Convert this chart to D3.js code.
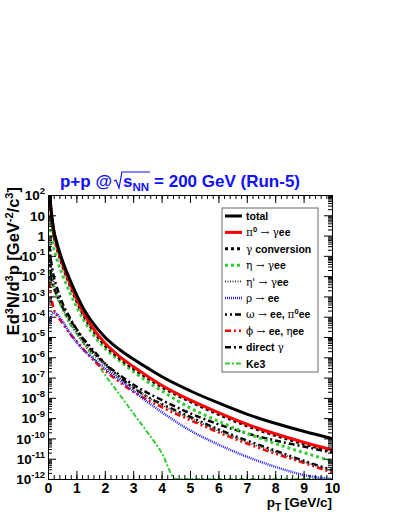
<!DOCTYPE html>
<html>
<head>
<meta charset="utf-8">
<script src="https://cdn.jsdelivr.net/npm/d3@7"></script>
<style>
body { margin:0; background:#fff; }
svg { display:block; font-family:"Liberation Sans", Arial, Helvetica, sans-serif; font-weight:bold; }
</style>
</head>
<body>
<script>
// ---- values ----
var pt    = [0.05,0.1,0.15,0.2,0.3,0.5,0.75,1,1.25,1.5,2,2.5,3,3.5,4,5,6,7,8,9,10];
var ke3Pt = [0.05,0.1,0.15,0.2,0.3,0.5,0.75,1,1.25,1.5,2,2.5,3,3.5,4,4.5,5,6,7,8,9,10];

var totalY   = [2.5e2,2.5e1,6.3,2.0,5.0e-1,6.3e-2,7.9e-3,1.26e-3,2.5e-4,7.1e-5,1.0e-5,2.5e-6,8.3e-7,3.0e-7,1.12e-7,2.24e-8,5.6e-9,1.58e-9,5.6e-10,2.24e-10,1.0e-10];
var pi0Y     = [2.24e2,2.1e1,5.1,1.58,3.8e-1,4.6e-2,5.4e-3,7.9e-4,1.51e-4,4.0e-5,5.0e-6,1.15e-6,3.5e-7,1.17e-7,4.2e-8,7.9e-9,1.86e-9,5.0e-10,1.7e-10,6.5e-11,2.75e-11];
var convY    = [1.78e2,1.66e1,4.1,1.26,3.0e-1,3.6e-2,4.3e-3,6.3e-4,1.2e-4,3.2e-5,4.0e-6,9.3e-7,2.8e-7,9.5e-8,3.5e-8,6.6e-9,1.55e-9,4.2e-10,1.41e-10,5.4e-11,2.3e-11];
var etaY     = [7.9,1.58,5.6e-1,2.5e-1,7.9e-2,1.26e-2,1.78e-3,3.2e-4,7.1e-5,2.0e-5,2.8e-6,7.1e-7,2.0e-7,6.3e-8,2.24e-8,3.2e-9,7.1e-10,1.78e-10,5.6e-11,2.0e-11,7.6e-12];
var etapY    = [1.26e-1,3.2e-2,1.26e-2,5.0e-3,1.58e-3,3.2e-4,6.3e-5,1.58e-5,5.0e-6,2.0e-6,4.0e-7,1.0e-7,3.2e-8,1.12e-8,4.5e-9,1.0e-9,2.4e-10,6.8e-11,2.14e-11,7.1e-12,2.5e-12];
var rhoY     = [5.0e-5,1.0e-4,1.41e-4,1.58e-4,1.41e-4,6.3e-5,1.78e-5,5.6e-6,2.24e-6,1.12e-6,2.8e-7,7.9e-8,2.24e-8,6.3e-9,2.0e-9,2.5e-10,5.0e-11,1.26e-11,4.0e-12,1.58e-12,6.3e-13];
var omegaY   = [6.3e-2,1.58e-2,6.3e-3,3.2e-3,1.26e-3,3.2e-4,7.9e-5,2.5e-5,7.9e-6,3.2e-6,5.0e-7,1.12e-7,3.2e-8,1.12e-8,5.0e-9,1.17e-9,2.8e-10,7.9e-11,2.5e-11,7.9e-12,2.8e-12];
var phiY     = [5.0e-3,1.26e-3,5.0e-4,2.5e-4,1.26e-4,5.0e-5,1.58e-5,6.3e-6,2.5e-6,1.0e-6,2.24e-7,6.3e-8,2.0e-8,7.9e-9,3.5e-9,8.1e-10,2.0e-10,5.6e-11,1.78e-11,6.3e-12,2.1e-12];
var dirGamY  = [3.2e-1,6.3e-2,2.5e-2,1.0e-2,3.2e-3,5.0e-4,1.0e-4,2.5e-5,7.1e-6,2.5e-6,5.0e-7,1.41e-7,4.5e-8,1.78e-8,7.9e-9,1.74e-9,5.0e-10,1.78e-10,7.9e-11,4.0e-11,2.0e-11];
var ke3Y     = [1.58e-2,7.9e-3,4.5e-3,2.5e-3,1.0e-3,2.5e-4,5.0e-5,1.58e-5,5.0e-6,1.58e-6,1.41e-7,1.58e-8,1.78e-9,2.0e-10,2.0e-11,1.0e-12,1.0e-12,1.0e-12,1.0e-12,1.0e-12,1.0e-12,1.0e-12];

// legend labels: g = greek/symbol (normal weight), s = superscript
var legendLabels = [
  [{t:"total"}],
  [{t:"π",g:1},{t:"0",s:1},{t:" → γ",g:1},{t:"ee"}],
  [{t:"γ",g:1},{t:" conversion"}],
  [{t:"η → γ",g:1},{t:"ee"}],
  [{t:"η' → γ",g:1},{t:"ee"}],
  [{t:"ρ → ",g:1},{t:"ee"}],
  [{t:"ω → ",g:1},{t:"ee, "},{t:"π",g:1},{t:"0",s:1},{t:"ee"}],
  [{t:"ϕ → ",g:1},{t:"ee, "},{t:"η",g:1},{t:"ee"}],
  [{t:"direct "},{t:"γ",g:1}],
  [{t:"Ke3"}]
];

var xTicks = [0,1,2,3,4,5,6,7,8,9,10];
var yPowers = [2,1,0,-1,-2,-3,-4,-5,-6,-7,-8,-9,-10,-11,-12];

// ---- styles ----
var series = [
  {x:pt,    y:totalY,  color:"#000000", w:3,   dash:null},
  {x:pt,    y:pi0Y,    color:"#ff0000", w:3,   dash:null},
  {x:pt,    y:convY,   color:"#000000", w:3,   dash:"3,3"},
  {x:pt,    y:etaY,    color:"#33cc33", w:3,   dash:"3,3"},
  {x:pt,    y:etapY,   color:"#444444", w:2,   dash:"1,1.5"},
  {x:pt,    y:rhoY,    color:"#2222ff", w:2.5, dash:"1,1"},
  {x:pt,    y:omegaY,  color:"#000000", w:2.5, dash:"2,3,2,3,6,3"},
  {x:pt,    y:phiY,    color:"#ff0000", w:2.5, dash:"6,3,2,3,2,3"},
  {x:pt,    y:dirGamY, color:"#000000", w:2.5, dash:"6,3,2,3"},
  {x:ke3Pt, y:ke3Y,    color:"#33cc33", w:2,   dash:"5,2,2,2"}
];

var W = 399, H = 516;
var L = 48, R = 332, T = 195, B = 479;

var svg = d3.select("body").append("svg").attr("width", W).attr("height", H);

var x = d3.scaleLinear().domain([0, 10]).range([L, R]);
var y = d3.scaleLog().domain([1e-12, 1e2]).range([B, T]);

svg.append("clipPath").attr("id", "plotclip")
  .append("rect").attr("x", L).attr("y", T).attr("width", R - L).attr("height", B - T + 4);

var line = d3.line()
  .x(function(d){ return x(d[0]); })
  .y(function(d){ return y(Math.max(d[1], 1e-12)); })
  .curve(d3.curveMonotoneX);

var plot = svg.append("g").attr("clip-path", "url(#plotclip)");
series.slice().reverse().forEach(function(s){
  plot.append("path")
    .attr("d", line(d3.zip(s.x, s.y)))
    .attr("fill", "none")
    .attr("stroke", s.color)
    .attr("stroke-width", s.w)
    .attr("stroke-dasharray", s.dash);
});

// ---- axes ----
var xMinor = d3.range(0, 10.001, 0.2);
var yMinor = [];
yPowers.forEach(function(p){ if (p < 2) for (var k = 2; k <= 9; k++) yMinor.push(k * Math.pow(10, p)); });
var yMajor = yPowers.map(function(p){ return Math.pow(10, p); });

function drawAxis(g) {
  g.select(".domain").attr("stroke", "#000");
  g.selectAll(".tick line").attr("stroke", "#000");
}

svg.append("g").attr("transform", "translate(0," + B + ")")
  .call(d3.axisBottom(x).tickValues(xMinor).tickSize(-4).tickFormat("").tickSizeOuter(0)).call(drawAxis);
svg.append("g").attr("transform", "translate(0," + B + ")")
  .call(d3.axisBottom(x).tickValues(xTicks).tickSize(-8).tickPadding(4).tickFormat(d3.format("d")).tickSizeOuter(0))
  .call(drawAxis)
  .selectAll("text").attr("fill", "#000").style("font-size", "14px").style("font-weight", "bold");

svg.append("g").attr("transform", "translate(0," + T + ")")
  .call(d3.axisTop(x).tickValues(xMinor).tickSize(-4).tickFormat("").tickSizeOuter(0)).call(drawAxis);
svg.append("g").attr("transform", "translate(0," + T + ")")
  .call(d3.axisTop(x).tickValues(xTicks).tickSize(-8).tickFormat("").tickSizeOuter(0)).call(drawAxis);

svg.append("g").attr("transform", "translate(" + L + ",0)")
  .call(d3.axisLeft(y).tickValues(yMinor).tickSize(-4).tickFormat("").tickSizeOuter(0)).call(drawAxis);
var yl = svg.append("g").attr("transform", "translate(" + L + ",0)")
  .call(d3.axisLeft(y).tickValues(yMajor).tickSize(-8).tickPadding(3).tickFormat("").tickSizeOuter(0)).call(drawAxis);

svg.append("g").attr("transform", "translate(" + R + ",0)")
  .call(d3.axisRight(y).tickValues(yMinor).tickSize(-4).tickFormat("").tickSizeOuter(0)).call(drawAxis);
svg.append("g").attr("transform", "translate(" + R + ",0)")
  .call(d3.axisRight(y).tickValues(yMajor).tickSize(-8).tickFormat("").tickSizeOuter(0)).call(drawAxis);

// y tick labels with superscripts
yl.selectAll(".tick text").each(function(d){
  var p = Math.round(Math.log10(d));
  var t = d3.select(this).attr("fill", "#000").style("font-size", "13.5px").attr("dy", "0.35em");
  if (p === 0) { t.text("1"); return; }
  t.append("tspan").text("10");
  if (p !== 1) t.append("tspan").attr("dy", "-6").style("font-size", "9.5px").text(p);
});

// ---- axis titles ----
var xt = svg.append("text").attr("x", R).attr("y", 507).attr("text-anchor", "end").style("font-size", "13.5px");
xt.append("tspan").text("p");
xt.append("tspan").attr("dy", 4).style("font-size", "10px").text("T");
xt.append("tspan").attr("dy", -4).text(" [GeV/c]");

var yt = svg.append("text").attr("transform", "translate(19,187) rotate(-90)")
  .attr("text-anchor", "end").style("font-size", "16.5px");
yt.append("tspan").text("Ed");
yt.append("tspan").attr("dy", -6).style("font-size", "11px").text("3");
yt.append("tspan").attr("dy", 6).text("N/d");
yt.append("tspan").attr("dy", -6).style("font-size", "11px").text("3");
yt.append("tspan").attr("dy", 6).text("p [GeV");
yt.append("tspan").attr("dy", -6).style("font-size", "11px").text("-2");
yt.append("tspan").attr("dy", 6).text("/c");
yt.append("tspan").attr("dy", -6).style("font-size", "11px").text("3");
yt.append("tspan").attr("dy", 6).text("]");

// ---- title with square root ----
var blue = "#1010ff", tY = 187;
var tg = svg.append("g").attr("fill", blue).style("font-size", "17px");
var t1 = tg.append("text").attr("y", tY).text("p+p @");
var t2 = tg.append("text").attr("y", tY);
t2.append("tspan").text("s");
t2.append("tspan").attr("dy", 4).style("font-size", "11.5px").text("NN");
var t3 = tg.append("text").attr("y", tY).text("= 200 GeV (Run-5)");
var w1 = t1.node().getComputedTextLength(),
    w2 = t2.node().getComputedTextLength(),
    w3 = t3.node().getComputedTextLength();
var rootW = 9, gap = 2, sp = 5;
var x0 = 180 - (w1 + gap + rootW + w2 + sp + w3) / 2;
t1.attr("x", x0);
var rx = x0 + w1 + gap;
t2.attr("x", rx + rootW);
t3.attr("x", rx + rootW + w2 + sp);
tg.append("path")
  .attr("d", "M" + rx + "," + (tY - 6) + "L" + (rx + 2) + "," + (tY - 7) + "L" + (rx + 5) + "," + (tY + 1) +
             "L" + (rx + rootW - 1) + "," + (tY - 15) + "L" + (rx + rootW + w2 + 1) + "," + (tY - 15))
  .attr("fill", "none").attr("stroke", blue).attr("stroke-width", 1.2);

// ---- legend ----
var lg = svg.append("g");
lg.append("rect").attr("x", 222).attr("y", 208).attr("width", 96).attr("height", 164)
  .attr("fill", "#fff").attr("stroke", "#666").attr("stroke-width", 1);
legendLabels.forEach(function(lab, i){
  var s = series[i], yy = 216 + i * 16.4;
  lg.append("line").attr("x1", 225).attr("x2", 242).attr("y1", yy).attr("y2", yy)
    .attr("stroke", s.color).attr("stroke-width", s.w).attr("stroke-dasharray", s.dash);
  var tx = lg.append("text").attr("x", 246).attr("y", yy + 4).style("font-size", "10.5px");
  var up = false;
  lab.forEach(function(seg){
    var sp = tx.append("tspan").text(seg.t);
    if (seg.g) sp.style("font-weight", "normal").style("font-family", "DejaVu Serif, serif");
    if (seg.s) { sp.attr("dy", -4).style("font-size", "7.5px"); up = true; }
    else if (up) { sp.attr("dy", 4); up = false; }
  });
});
</script>
</body>
</html>
